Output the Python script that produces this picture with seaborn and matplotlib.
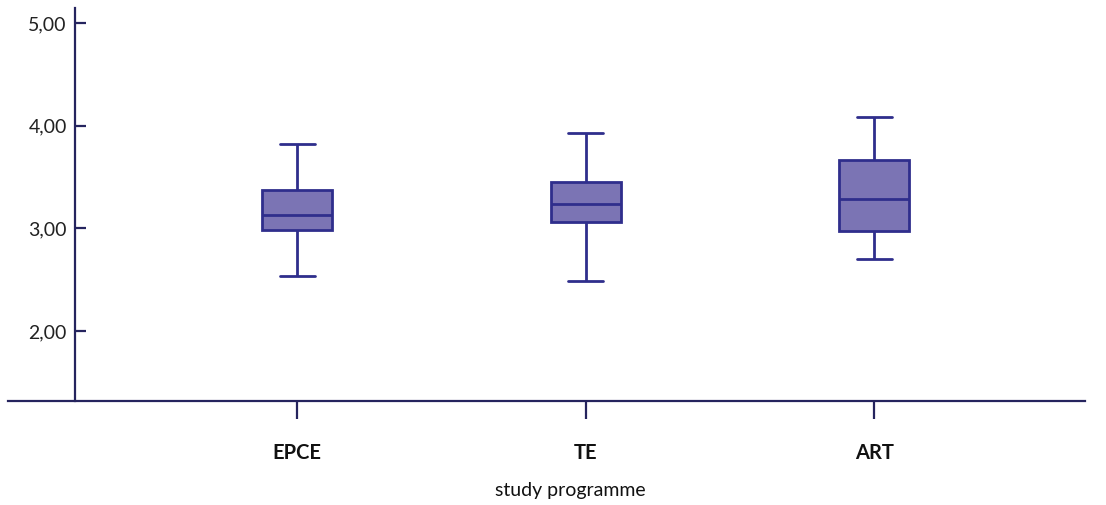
import numpy as np
import pandas as pd
import matplotlib
matplotlib.use("Agg")
import matplotlib.pyplot as plt
import seaborn as sns

# Five-number summaries per study programme: whisker low, Q1, median, Q3, whisker high
programmes = ["EPCE", "TE", "ART"]
epce = [2.54, 2.98, 3.13, 3.37, 3.82]
te = [2.49, 3.06, 3.24, 3.45, 3.93]
art = [2.70, 2.97, 3.29, 3.67, 4.08]
y_ticks = [2.0, 3.0, 4.0, 5.0]
y_tick_labels = ["2,00", "3,00", "4,00", "5,00"]

df = pd.DataFrame({
    "programme": np.repeat(programmes, 5),
    "score": epce + te + art,
})

sns.set_theme(style="white")
plt.rcParams["font.family"] = ["Lato", "DejaVu Sans"]

edge = "#2f2e8c"
fill = "#7b74b4"
axis_col = "#25245e"

fig = plt.figure(figsize=(11.06, 5.05), dpi=100)
ax = fig.add_axes([8 / 1106, 104 / 505, (1085 - 8) / 1106, (401 - 8) / 505])

sns.boxplot(
    data=df, x="programme", y="score", order=programmes, ax=ax,
    whis=np.inf, width=0.243, color=fill, saturation=1,
    linecolor=edge, linewidth=2.0,
    boxprops=dict(facecolor=fill, edgecolor=edge),
    capprops=dict(color=edge), whiskerprops=dict(color=edge),
    medianprops=dict(color=edge),
)

ax.set_xlim(-1.002, 2.731)
ax.set_ylim(1.318, 5.146)

for s in ["top", "right"]:
    ax.spines[s].set_visible(False)
ax.spines["left"].set_position(("data", -0.769))
for s in ["left", "bottom"]:
    ax.spines[s].set_color(axis_col)
    ax.spines[s].set_linewidth(1.6)

ax.set_yticks(y_ticks)
ax.set_yticklabels(y_tick_labels)
ax.tick_params(axis="y", direction="in", length=8, width=1.6, color=axis_col,
               labelsize=14, labelcolor="#222222", pad=6, left=True)
ax.tick_params(axis="x", direction="out", length=13, width=1.6, color=axis_col,
               labelsize=14.5, labelcolor="#111111", pad=17, bottom=True)
for lab in ax.get_xticklabels():
    lab.set_fontweight("bold")

ax.set_ylabel("")
ax.set_xlabel("study programme", fontsize=14, color="#111111")
ax.xaxis.set_label_coords(0.522, -0.205)

fig.savefig("out.png", dpi=100)
